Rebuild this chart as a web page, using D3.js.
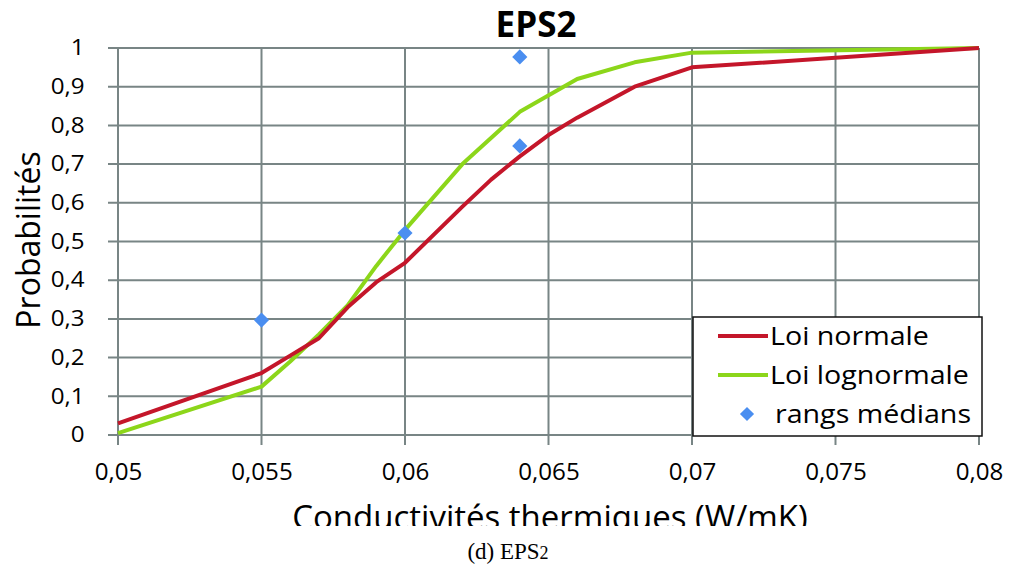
<!DOCTYPE html>
<html>
<head>
<meta charset="utf-8">
<script src="https://cdn.jsdelivr.net/npm/d3@7"></script>
<style>
  body { margin: 0; background: #fff; }
  text { font-family: "Open Sans", sans-serif; fill: #000; }
</style>
</head>
<body>
<div id="chart"></div>
<script>
// courbes
let xNormale = [0.05, 0.055, 0.056, 0.057, 0.058, 0.059, 0.06, 0.062, 0.063, 0.064, 0.065, 0.066, 0.068, 0.07, 0.08]
let yNormale = [0.03, 0.16, 0.205, 0.25, 0.33, 0.395, 0.445, 0.59, 0.66, 0.72, 0.775, 0.82, 0.90, 0.95, 1.0]

let xLognormale = [0.05, 0.055, 0.056, 0.057, 0.058, 0.059, 0.06, 0.062, 0.064, 0.066, 0.068, 0.07, 0.08]
let yLognormale = [0.005, 0.125, 0.19, 0.26, 0.335, 0.437, 0.53, 0.70, 0.835, 0.92, 0.963, 0.988, 1.0]

let xRangs = [0.055, 0.06, 0.064, 0.064]
let yRangs = [0.297, 0.522, 0.747, 0.977]

let xTicks = [0.05, 0.055, 0.06, 0.065, 0.07, 0.075, 0.08]
let yTicks = [0, 0.1, 0.2, 0.3, 0.4, 0.5, 0.6, 0.7, 0.8, 0.9, 1]

let legendLabels = ["Loi normale", "Loi lognormale", "rangs médians"]
let colors = ["#c4162a", "#8cd61a", "#4a8ef0"]

let width = 1009, height = 568
let margin = {top: 48, right: 30, bottom: 133, left: 118}
let w = 979 - margin.left
let h = 435 - margin.top
let gridColor = "#788585"

let fr = d3.formatLocale({decimal: ",", thousands: " ", grouping: [3], currency: ["", " €"]})
let fmt = fr.format("~g")

let svg = d3.select("#chart").append("svg")
    .attr("width", width)
    .attr("height", height)

let g = svg.append("g")
    .attr("transform", "translate(" + margin.left + "," + margin.top + ")")

let x = d3.scaleLinear().domain([0.05, 0.08]).range([0, w])
let y = d3.scaleLinear().domain([0, 1]).range([h, 0])

// grille
g.append("g").selectAll("line")
    .data(yTicks)
    .enter().append("line")
    .attr("x1", -10).attr("x2", w)
    .attr("y1", d => y(d)).attr("y2", d => y(d))
    .attr("stroke", gridColor).attr("stroke-width", 2)

g.append("g").selectAll("line")
    .data(xTicks)
    .enter().append("line")
    .attr("x1", d => x(d)).attr("x2", d => x(d))
    .attr("y1", 0).attr("y2", h + 10)
    .attr("stroke", gridColor).attr("stroke-width", 2)

// axes (texte seulement)
let yAxis = d3.axisLeft(y).tickValues(yTicks).tickFormat(fmt).tickSize(0).tickPadding(28)
let ya = g.append("g").call(yAxis)
ya.select(".domain").remove()
ya.selectAll("text")
    .style("font-family", '"Open Sans", sans-serif')
    .style("font-size", "21px")
    .attr("transform", "scale(1.15,1)")
    .attr("dx", "-1")

let xAxis = d3.axisBottom(x).tickValues(xTicks).tickFormat(fmt).tickSize(0).tickPadding(29)
let xa = g.append("g").attr("transform", "translate(0," + h + ")").call(xAxis)
xa.select(".domain").remove()
xa.selectAll("text")
    .style("font-family", '"Open Sans", sans-serif')
    .style("font-size", "23px")
    .attr("transform", "scale(1.05,1)")

// courbes
let line = d3.line()
    .x(d => x(d[0]))
    .y(d => y(d[1]))

g.append("path")
    .datum(d3.zip(xLognormale, yLognormale))
    .attr("fill", "none")
    .attr("stroke", colors[1])
    .attr("stroke-width", 4)
    .attr("stroke-linejoin", "round")
    .attr("d", line)

g.append("path")
    .datum(d3.zip(xNormale, yNormale))
    .attr("fill", "none")
    .attr("stroke", colors[0])
    .attr("stroke-width", 4)
    .attr("stroke-linejoin", "round")
    .attr("d", line)

let diamond = d3.symbol().type(d3.symbolSquare).size(115)

g.append("g").selectAll("path")
    .data(d3.zip(xRangs, yRangs))
    .enter().append("path")
    .attr("d", diamond)
    .attr("fill", colors[2])
    .attr("transform", d => "translate(" + x(d[0]) + "," + y(d[1]) + ") rotate(45)")

// legende
let leg = svg.append("g").attr("transform", "translate(693,317)")
leg.append("rect")
    .attr("width", 289).attr("height", 119)
    .attr("fill", "#fff")
    .attr("stroke", "#111").attr("stroke-width", 1.5)

legendLabels.forEach((lab, i) => {
    let yy = 19 + i * 39
    if (i < 2) {
        leg.append("line")
            .attr("x1", 25).attr("x2", 75)
            .attr("y1", yy).attr("y2", yy)
            .attr("stroke", colors[i]).attr("stroke-width", 4)
    } else {
        leg.append("path")
            .attr("d", d3.symbol().type(d3.symbolSquare).size(100))
            .attr("fill", colors[2])
            .attr("transform", "translate(54," + yy + ") rotate(45)")
    }
    leg.append("text")
        .attr("transform", "translate(" + (i < 2 ? 77 : 82) + "," + (yy + 9) + ") scale(1.1,1)")
        .style("font-size", "26px")
        .text(lab)
})

// titres
svg.append("text")
    .attr("x", 536).attr("y", 37)
    .attr("text-anchor", "middle")
    .style("font-size", "35px")
    .style("font-weight", "bold")
    .text("EPS2")

svg.append("text")
    .attr("transform", "translate(40,240) rotate(-90)")
    .attr("text-anchor", "middle")
    .style("font-size", "32px")
    .text("Probabilités")

svg.append("clipPath").attr("id", "cut")
    .append("rect").attr("x", 0).attr("y", 490).attr("width", width).attr("height", 36)

svg.append("text")
    .attr("x", 550).attr("y", 529)
    .attr("text-anchor", "middle")
    .attr("clip-path", "url(#cut)")
    .style("font-size", "33px")
    .text("Conductivités thermiques (W/mK)")

let cap = svg.append("text")
    .attr("x", 508).attr("y", 559)
    .attr("text-anchor", "middle")
    .style("font-family", '"Liberation Serif", "DejaVu Serif", serif')
    .style("font-size", "23px")
cap.append("tspan").text("(d) EPS")
cap.append("tspan").style("font-size", "18px").text("2")
</script>
</body>
</html>
